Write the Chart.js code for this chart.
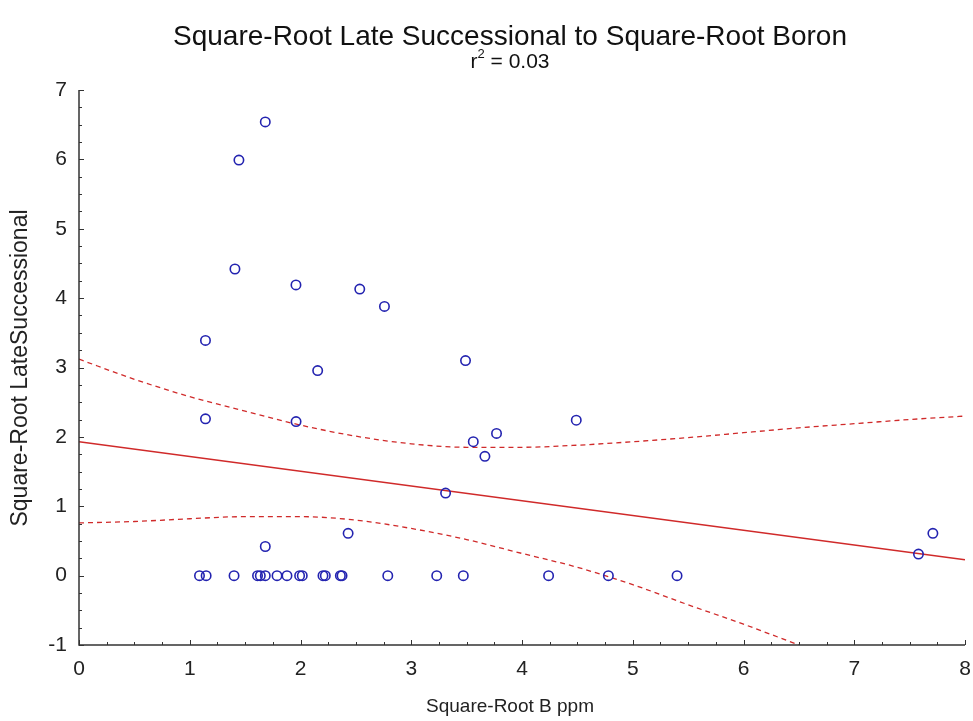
<!DOCTYPE html>
<html>
<head>
<meta charset="utf-8">
<title>Square-Root Late Successional to Square-Root Boron</title>
<script src="https://cdn.jsdelivr.net/npm/chart.js@4.4.1/dist/chart.umd.min.js"></script>
<style>
  html, body { margin: 0; padding: 0; background: #fff; }
</style>
</head>
<body>
<canvas id="myChart" width="973" height="721"></canvas>
<script>
// sqrt(B ppm) on x, sqrt(late successional) on y
const boronX = [
  1.682, 1.444, 1.408, 1.142, 1.142, 1.959, 2.155, 1.960, 2.535, 2.758,
  3.490, 3.560, 3.665, 3.770, 4.490, 3.310, 2.430, 1.682, 7.580, 7.710,
  1.088, 1.148, 1.400, 1.612, 1.637, 1.682, 1.788, 1.878, 1.992, 2.016,
  2.203, 2.224, 2.360, 2.375, 2.788, 3.230, 3.470, 4.240, 4.780, 5.400
];
const lateY = [
  6.54, 5.99, 4.42, 3.39, 2.26, 4.19, 2.955, 2.22, 4.13, 3.88,
  3.10, 1.93, 1.72, 2.05, 2.24, 1.19, 0.61, 0.42, 0.31, 0.61,
  0, 0, 0, 0, 0, 0, 0, 0, 0, 0,
  0, 0, 0, 0, 0, 0, 0, 0, 0, 0
];

// fitted line
const fitX = [0, 8];
const fitY = [1.93, 0.23];

// 95% confidence bands
const upperX = [0, 0.5, 1, 1.5, 2, 2.5, 3, 3.5, 4, 4.5, 5, 5.5, 6, 6.5, 7, 7.5, 8];
const upperY = [3.12, 2.83, 2.58, 2.37, 2.17, 2.01, 1.90, 1.85, 1.85, 1.88, 1.93, 1.99, 2.06, 2.13, 2.19, 2.25, 2.30];
const lowerX = [0, 0.5, 1, 1.5, 2, 2.5, 3, 3.5, 4, 4.5, 5, 5.5, 6, 6.5];
const lowerY = [0.76, 0.78, 0.82, 0.85, 0.85, 0.80, 0.68, 0.52, 0.32, 0.12, -0.13, -0.42, -0.70, -1.0];

const xTicks = [0, 1, 2, 3, 4, 5, 6, 7, 8];
const yTicks = [-1, 0, 1, 2, 3, 4, 5, 6, 7];

const chartTitle = "Square-Root Late Successional to Square-Root Boron";
const rSquared = "0.03";
const xTitle = "Square-Root B ppm";
const yTitle = "Square-Root LateSuccessional";

const FONT = '"Liberation Sans", Arial, sans-serif';
const RED = "#d02a2a";
const BLUE = "#2323b0";
const AXIS = "#333";

const toXY = (xs, ys) => xs.map((v, i) => ({ x: v, y: ys[i] }));

// titles, axis lines and inward tick marks
const decorations = {
  id: "decorations",
  afterDraw(chart) {
    const { ctx, chartArea, scales: { x, y } } = chart;
    const cx = 510;
    ctx.save();

    ctx.strokeStyle = AXIS;
    ctx.lineWidth = 1.5;
    ctx.beginPath();
    ctx.moveTo(chartArea.left, chartArea.top);
    ctx.lineTo(chartArea.left, chartArea.bottom);
    ctx.lineTo(chartArea.right, chartArea.bottom);
    ctx.stroke();

    ctx.lineWidth = 1;
    const step = 0.25;
    for (let v = x.min; v <= x.max + 1e-9; v += step) {
      const px = Math.round(x.getPixelForValue(v)) + 0.5;
      const len = Math.abs(v - Math.round(v)) < 1e-6 ? 5 : 3;
      ctx.beginPath();
      ctx.moveTo(px, chartArea.bottom);
      ctx.lineTo(px, chartArea.bottom - len);
      ctx.stroke();
    }
    for (let v = y.min; v <= y.max + 1e-9; v += step) {
      const py = Math.round(y.getPixelForValue(v)) + 0.5;
      const len = Math.abs(v - Math.round(v)) < 1e-6 ? 5 : 3;
      ctx.beginPath();
      ctx.moveTo(chartArea.left, py);
      ctx.lineTo(chartArea.left + len, py);
      ctx.stroke();
    }

    ctx.fillStyle = "#111";
    ctx.textBaseline = "alphabetic";
    ctx.textAlign = "center";
    ctx.font = "28px " + FONT;
    ctx.fillText(chartTitle, cx, 45);

    // r² = 0.03 with a raised 2
    ctx.textAlign = "left";
    const big = "21px " + FONT, small = "13px " + FONT;
    const rest = " = " + rSquared;
    ctx.font = big;
    const wr = ctx.measureText("r").width;
    const wRest = ctx.measureText(rest).width;
    ctx.font = small;
    const w2 = ctx.measureText("2").width;
    let sx = cx - (wr + w2 + wRest) / 2;
    ctx.font = big;
    ctx.fillText("r", sx, 68);
    ctx.font = small;
    ctx.fillText("2", sx + wr, 58);
    ctx.font = big;
    ctx.fillText(rest, sx + wr + w2, 68);

    ctx.fillStyle = "#222";
    ctx.textAlign = "center";
    ctx.font = "19px " + FONT;
    ctx.fillText(xTitle, cx, 712);

    ctx.font = "23px " + FONT;
    ctx.translate(27, 368);
    ctx.rotate(-Math.PI / 2);
    ctx.fillText(yTitle, 0, 0);
    ctx.restore();
  }
};

const ctx = document.getElementById("myChart");

new Chart(ctx, {
  type: "scatter",
  data: {
    datasets: [
      {
        label: "Observed",
        data: toXY(boronX, lateY),
        pointStyle: "circle",
        pointRadius: 4.7,
        pointBorderWidth: 1.6,
        pointBorderColor: BLUE,
        pointBackgroundColor: "rgba(0,0,0,0)",
        showLine: false
      },
      {
        label: "Fit",
        data: toXY(fitX, fitY),
        showLine: true,
        borderColor: RED,
        borderWidth: 1.5,
        pointRadius: 0
      },
      {
        label: "Upper 95%",
        data: toXY(upperX, upperY),
        showLine: true,
        borderColor: RED,
        borderWidth: 1.3,
        borderDash: [5, 4],
        cubicInterpolationMode: "monotone",
        pointRadius: 0
      },
      {
        label: "Lower 95%",
        data: toXY(lowerX, lowerY),
        showLine: true,
        borderColor: RED,
        borderWidth: 1.3,
        borderDash: [5, 4],
        cubicInterpolationMode: "monotone",
        pointRadius: 0
      }
    ]
  },
  options: {
    responsive: false,
    animation: false,
    events: [],
    layout: { padding: { top: 90, right: 8, bottom: 0, left: 0 } },
    plugins: {
      legend: { display: false },
      title: { display: false },
      tooltip: { enabled: false }
    },
    scales: {
      x: {
        type: "linear",
        min: 0,
        max: 8,
        afterBuildTicks: (s) => { s.ticks = xTicks.map(v => ({ value: v })); },
        afterFit: (s) => { s.height = 76; s.paddingLeft = 0; s.paddingRight = 0; },
        grid: { display: false, drawTicks: false },
        border: { display: false },
        ticks: {
          padding: 12,
          color: "#222",
          font: { family: FONT, size: 21 }
        }
      },
      y: {
        type: "linear",
        min: -1,
        max: 7,
        afterBuildTicks: (s) => { s.ticks = yTicks.map(v => ({ value: v })); },
        afterFit: (s) => { s.width = 79; },
        grid: { display: false, drawTicks: false },
        border: { display: false },
        ticks: {
          padding: 12,
          color: "#222",
          font: { family: FONT, size: 21 }
        }
      }
    }
  },
  plugins: [decorations]
});
</script>
</body>
</html>
